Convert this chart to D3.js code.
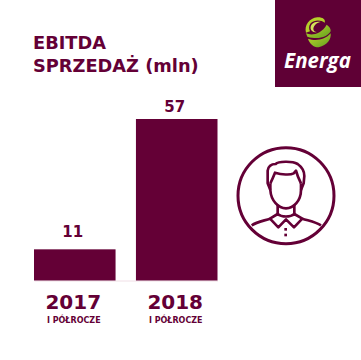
<!DOCTYPE html>
<html>
<head>
<meta charset="utf-8">
<script src="https://cdn.jsdelivr.net/npm/d3@7"></script>
<style>
html, body { margin: 0; padding: 0; background: #fff; }
svg { display: block; }
text { font-family: "DejaVu Sans", sans-serif; }
</style>
</head>
<body>
<div id="chart"></div>
<script>
// values
const years = ["2017", "2018"];
const ebitda = [11, 57];
const period = "I PÓŁROCZE";
const titleLines = ["EBITDA", "SPRZEDAŻ (mln)"];

const wine = "#640036";

const svg = d3.select("#chart").append("svg")
    .attr("width", 361)
    .attr("height", 360);

svg.append("rect").attr("width", 361).attr("height", 360).attr("fill", "#fff");

// Title
svg.selectAll(".title")
    .data(titleLines)
    .enter()
    .append("text")
    .attr("class", "title")
    .attr("x", 33)
    .attr("y", (d, i) => 49 + i * 23)
    .attr("fill", wine)
    .style("font-size", "17.8px")
    .style("font-weight", "700")
    .text(d => d);

// Scales
const x = d3.scaleBand()
    .domain(years)
    .range([34, 217.5])
    .paddingInner(0.2)
    .paddingOuter(0);

const y = d3.scaleLinear()
    .domain([0, 57])
    .range([280.5, 119]);

// Baseline, very faint in the original
const axis = svg.append("g")
    .attr("transform", `translate(0,${y(0)})`)
    .call(d3.axisBottom(x).tickSize(0).tickFormat(""));
axis.select("path").attr("stroke", "#f0dfe6").attr("stroke-width", 1);

// Bars
svg.selectAll(".bar")
    .data(ebitda)
    .enter()
    .append("rect")
    .attr("class", "bar")
    .attr("x", (d, i) => x(years[i]))
    .attr("y", d => y(d))
    .attr("width", x.bandwidth())
    .attr("height", d => y(0) - y(d))
    .attr("fill", wine);

// Value labels, the gap over the bar is not the same for both in the original
const labelGap = [12, 7.5];
svg.selectAll(".value")
    .data(ebitda)
    .enter()
    .append("text")
    .attr("class", "value")
    .attr("x", (d, i) => x(years[i]) + x.bandwidth() / 2 - 2)
    .attr("y", (d, i) => y(d) - labelGap[i])
    .attr("text-anchor", "middle")
    .attr("fill", wine)
    .style("font-size", "15px")
    .style("font-weight", "700")
    .text(d => d);

// Year labels
svg.selectAll(".year")
    .data(years)
    .enter()
    .append("text")
    .attr("class", "year")
    .attr("x", d => x(d) + x.bandwidth() / 2 - 1.5)
    .attr("y", 308.5)
    .attr("text-anchor", "middle")
    .attr("fill", wine)
    .style("font-size", "20px")
    .style("font-weight", "700")
    .text(d => d);

svg.selectAll(".period")
    .data(years)
    .enter()
    .append("text")
    .attr("class", "period")
    .attr("x", d => x(d) + x.bandwidth() / 2 - 1)
    .attr("y", 322.5)
    .attr("text-anchor", "middle")
    .attr("fill", wine)
    .style("font-size", "8px")
    .style("font-weight", "700")
    .text(period);

// Logo panel
const logo = svg.append("g");
logo.append("rect")
    .attr("x", 275).attr("y", 0)
    .attr("width", 86).attr("height", 87)
    .attr("fill", "#5f0035");

const grad = svg.append("defs").append("linearGradient")
    .attr("id", "swirl")
    .attr("x1", "0%").attr("y1", "0%")
    .attr("x2", "100%").attr("y2", "100%");
grad.append("stop").attr("offset", "0%").attr("stop-color", "#c4d82e");
grad.append("stop").attr("offset", "100%").attr("stop-color", "#5f9e1f");

const swirl = logo.append("g").attr("transform", "translate(298,12) scale(0.3333)");
const swirlParts = [
    // upper ring
    ["M24 62 C18 40 34 18 58 16 C72 15 84 22 80 32 C70 24 50 22 38 34 C32 42 32 50 36 58 Z", "#b5d02a"],
    // inner curl
    ["M38 50 C36 36 50 26 68 30 C58 32 48 38 46 50 C46 56 50 60 56 60 C48 62 40 58 38 50 Z", "#d4e25a"],
    // middle band
    ["M24 64 C42 72 70 66 86 38 C94 44 99 50 98 58 C88 76 60 84 28 74 Z", "url(#swirl)"],
    // bowl
    ["M30 80 C52 88 82 84 98 64 C100 82 88 100 62 106 C46 106 34 94 30 80 Z", "url(#swirl)"]
];
swirl.selectAll("path")
    .data(swirlParts)
    .enter()
    .append("path")
    .attr("d", d => d[0])
    .attr("fill", d => d[1]);

logo.append("text")
    .attr("x", 317.5)
    .attr("y", 67.5)
    .attr("text-anchor", "middle")
    .attr("fill", "#fff")
    .style("font-family", "'Open Sans', sans-serif")
    .style("font-size", "20.5px")
    .style("font-weight", "700")
    .style("font-style", "italic")
    .text("Energa");

// Person icon, drawn in the zoomed crop's units
const icon = svg.append("g")
    .attr("transform", "translate(225,140) scale(0.3333)")
    .attr("fill", "none")
    .attr("stroke", wine)
    .attr("stroke-width", 8)
    .attr("stroke-linejoin", "round");

icon.append("circle").attr("cx", 183).attr("cy", 167).attr("r", 144).attr("stroke-width", 9);

const iconPaths = [
    // hair outline
    "M136 150 L128 130 L128 92 C130 78 140 72 152 72 C160 64 200 62 218 72 C232 82 238 92 238 108 L236 130 L228 150",
    // hairline
    "M136 130 C142 118 146 108 150 98 C170 104 196 106 206 100 L213 92 C216 104 222 118 228 130",
    // face
    "M136 130 L136 150 C138 182 160 205 183 205 C206 205 228 182 228 150 L228 130",
    // neck
    "M158 194 L158 222 M208 194 L208 222",
    // collar
    "M158 222 L135 236 L160 262 L183 238 L207 262 L232 236 L208 222 M158 222 C170 232 196 232 208 222",
    // shoulders
    "M80 256 C96 246 118 242 135 236 M232 236 C250 242 272 246 288 256"
];

icon.selectAll("path")
    .data(iconPaths)
    .enter()
    .append("path")
    .attr("d", d => d);

icon.selectAll(".button")
    .data([268, 285])
    .enter()
    .append("rect")
    .attr("class", "button")
    .attr("x", 178).attr("y", d => d - 4)
    .attr("width", 8).attr("height", 8)
    .attr("fill", wine)
    .attr("stroke", "none");
</script>
</body>
</html>
